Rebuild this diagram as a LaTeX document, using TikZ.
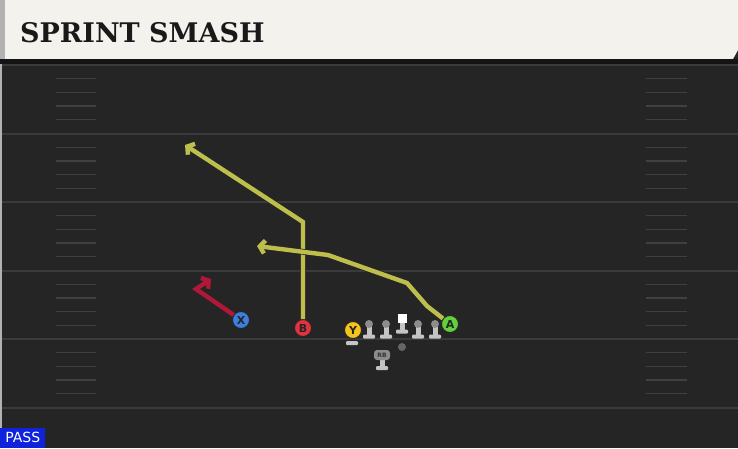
\documentclass[tikz,border=0pt]{standalone}
\usepackage{fontspec}
\newfontfamily\titlefont{DejaVu Serif}
\newfontfamily\labelfont{DejaVu Sans}
\usepackage{tikz}
\usetikzlibrary{arrows.meta,shapes,positioning}
\definecolor{field}{HTML}{252525}
\definecolor{cream}{HTML}{F4F2EC}
\definecolor{yardgray}{HTML}{3A3A3A}
\definecolor{hashgray}{HTML}{404040}
\definecolor{passblue}{HTML}{0F22DC}
\definecolor{routeyellow}{HTML}{BDBE4C}
\definecolor{routered}{HTML}{B0183A}
\definecolor{xblue}{HTML}{3D7FE0}
\definecolor{bred}{HTML}{E2323E}
\definecolor{yyellow}{HTML}{F3C41C}
\definecolor{agreen}{HTML}{62CF3C}
\definecolor{stemgray}{HTML}{C4C4C4}
\definecolor{headgray}{HTML}{8C8C8C}

\begin{document}
\begin{tikzpicture}[x=1pt,y=-1pt]
\tikzstyle{yardline}=[draw=yardgray, line width=2pt]
\tikzstyle{hash}=[draw=hashgray, line width=1.3pt]
\tikzstyle{player}=[draw=black!85, line width=0.9pt, shape=circle, minimum size=17pt, inner sep=0pt, font=\labelfont\bfseries\fontsize{11}{11}\selectfont, text=black!85]
\tikzstyle{head}=[shape=circle, fill=headgray, minimum size=8pt, inner sep=0pt]
\tikzstyle{stem}=[fill=stemgray]
\tikzstyle{route}=[line width=4.4pt, preaction={draw=black!85, line width=5.8pt}, -{Straight Barb[length=5pt,width=13pt]}]
\useasboundingbox (0,0) rectangle (738,448);
\fill[field] (0,0) rectangle (738,448);
% header
\fill[cream] (5,0) -- (738,0) -- (738,50) -- (733,59) -- (5,59) -- cycle;
\fill[black!30] (0,0) rectangle (5,59);
\fill[black!92] (0,59) rectangle (738,64);
\fill[black!30] (0,64) rectangle (2,448);
\node[anchor=base west, inner sep=0pt, font=\titlefont\bfseries\fontsize{27}{27}\selectfont, text=black!90] (title) at (20,42) {SPRINT SMASH};

% field lines
\foreach \y in {65,133.5,202,270.5,339,407.5}
  \draw[yardline] (2,\y) -- (738,\y);
\foreach \y in {65,133.5,202,270.5,339}
  \foreach \k in {1,...,4} {
    \draw[hash] (56,{\y+\k*13.7}) -- (96,{\y+\k*13.7});
    \draw[hash] (646,{\y+\k*13.7}) -- (687,{\y+\k*13.7});
  }

\node[fill=passblue, text=white, anchor=south west, minimum width=45pt, minimum height=20pt, inner sep=0pt, font=\labelfont\fontsize{14}{14}\selectfont] (pass) at (0,448) {PASS};

% linemen
\foreach \x [count=\i] in {369,386,418,435} {
  \fill[stem] ({\x-2.5},324) rectangle ({\x+2.5},335);
  \fill[stem, rounded corners=1pt] ({\x-6},334.5) rectangle ({\x+6},338.5);
  \node[head] (l\i) at (\x,324) {};
}
\fill[stem] (399.5,320) rectangle (404.5,330);
\fill[stem, rounded corners=1pt] (396,329.5) rectangle (408,333.5);
\node[fill=white, minimum size=9pt, inner sep=0pt] (C) at (402,318) {};
\node[shape=circle, fill=black!60, minimum size=8pt, inner sep=0pt] (ball) at (402,347) {};

% running back
\fill[stem] (379.5,360) rectangle (384.5,367);
\fill[stem, rounded corners=1pt] (376,366) rectangle (388,370);
\node[fill=black!45, rounded corners=3pt, minimum width=16pt, minimum height=10pt, inner sep=0pt, font=\labelfont\bfseries\fontsize{6}{6}\selectfont, text=black!80] (RB) at (382,355) {RB};

% skill players
\fill[stem, rounded corners=1pt] (346,341) rectangle (358,345);
\node[player, fill=xblue] (X) at (241,320) {X};
\node[player, fill=bred] (B) at (303,328) {B};
\node[player, fill=yyellow] (Y) at (353,330) {Y};
\node[player, fill=agreen] (A) at (450,324) {A};

% routes
\coordinate (x1) at (196,289);
\coordinate (x2) at (211,279);
\coordinate (b1) at (303,222);
\coordinate (b2) at (185,145);
\coordinate (a1) at (427,306);
\coordinate (a2) at (407,283);
\coordinate (a3) at (328,255);
\coordinate (a4) at (257,246);
\draw[route, routered] (X) -- (x1) -- (x2);
\draw[route, routeyellow] (B) -- (b1) -- (b2);
\draw[route, routeyellow] (A) -- (a1) -- (a2) -- (a3) -- (a4);

\end{tikzpicture}
\end{document}
